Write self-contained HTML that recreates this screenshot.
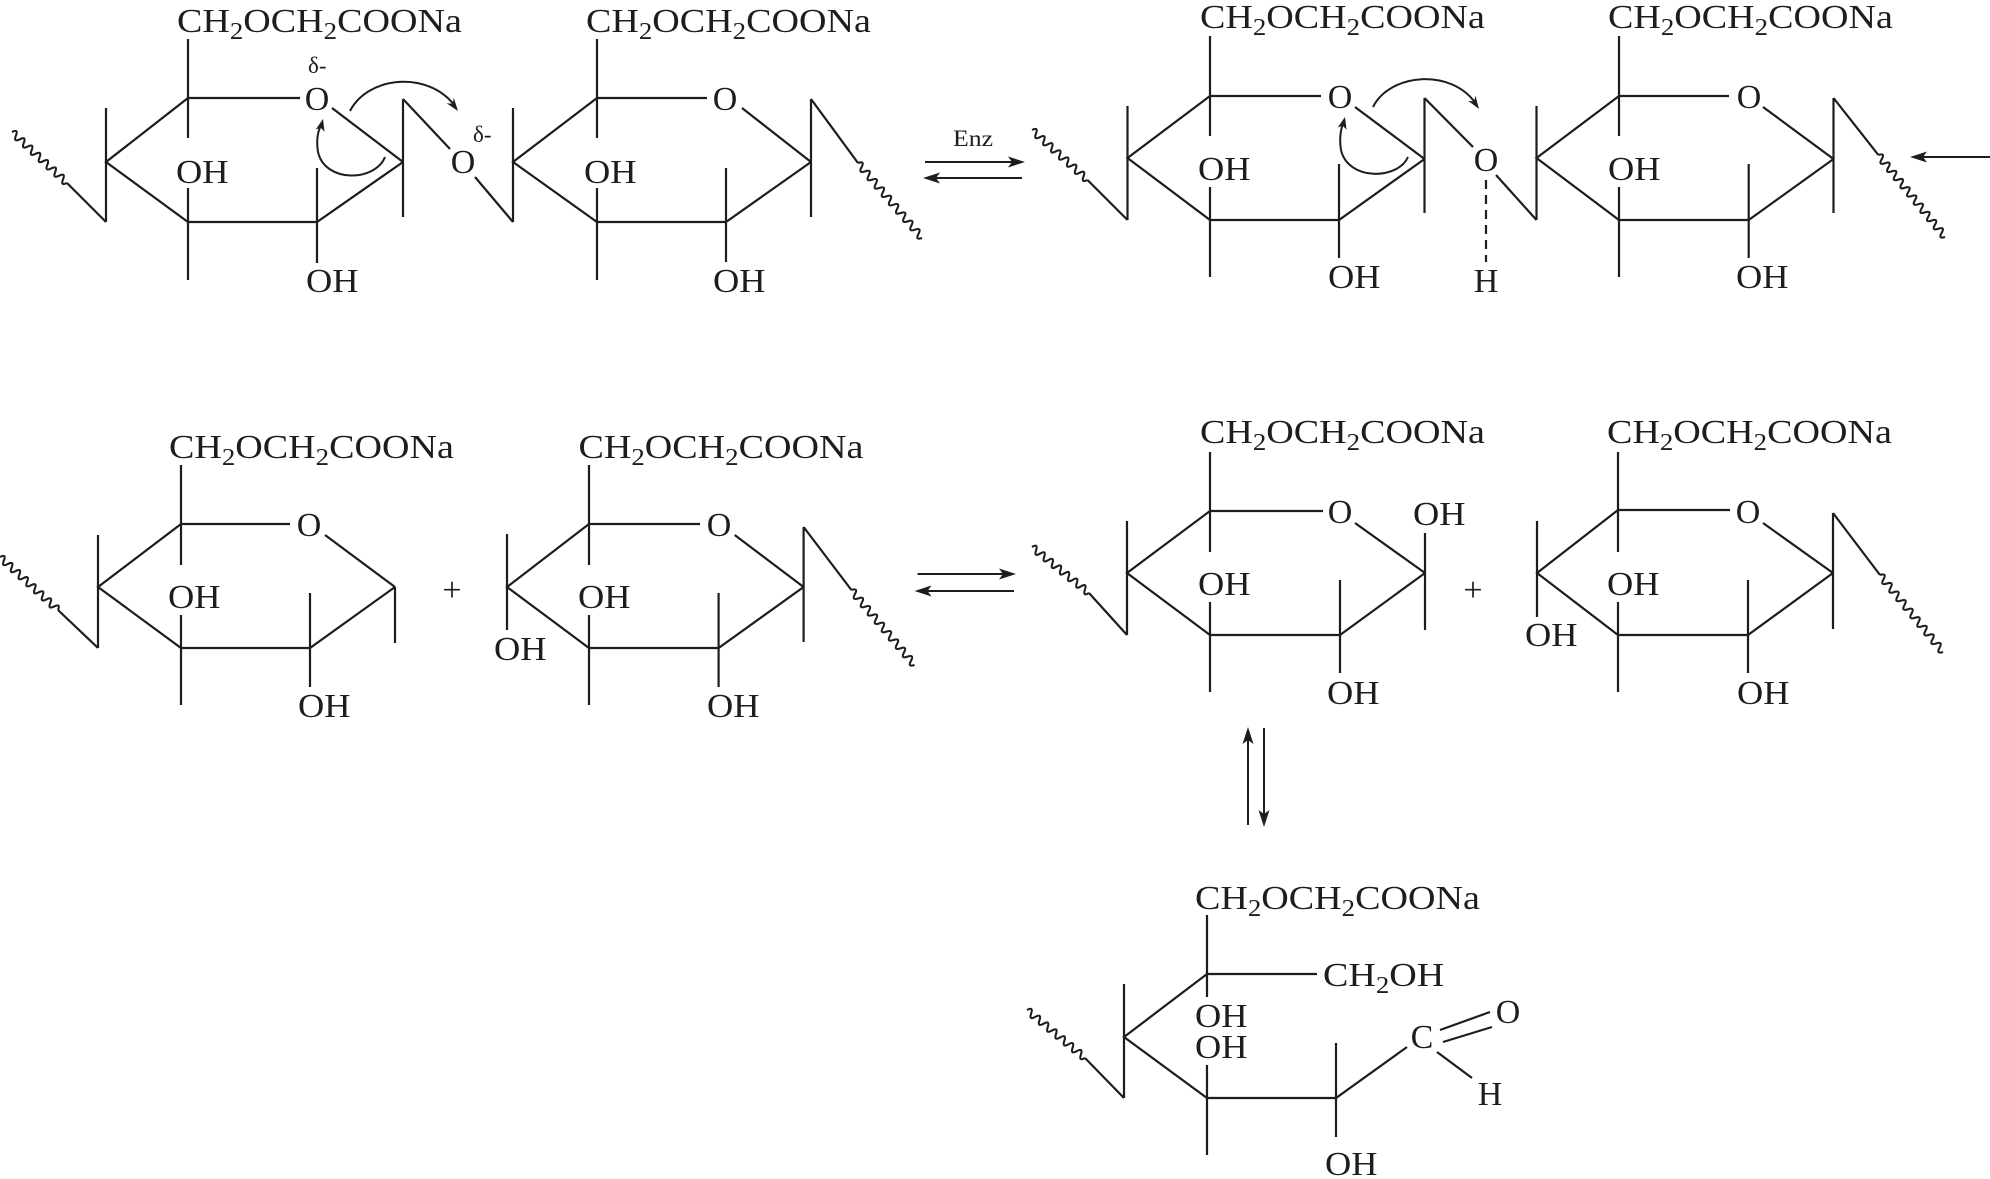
<!DOCTYPE html>
<html>
<head>
<meta charset="utf-8">
<style>
  html, body { margin: 0; padding: 0; background: #fff; }
  svg { display: block; }
  .b { fill: none; stroke: #1e1c1d; stroke-width: 2.2; stroke-linecap: butt; stroke-linejoin: miter; }
  .w { fill: none; stroke: #1e1c1d; stroke-width: 2; }
  .v { fill: none; stroke: #1e1c1d; stroke-width: 2.1; stroke-linejoin: round; }
  .h { fill: #1e1c1d; stroke: none; }
  text { font-family: "Liberation Serif", serif; fill: #1e1c1d; font-size: 34px; }
  .c { text-anchor: middle; }
  .sm { font-size: 23px; }
</style>
</head>
<body>
<svg width="1990" height="1179" viewBox="0 0 1990 1179" xmlns="http://www.w3.org/2000/svg">
<rect width="1990" height="1179" fill="#fff"/>

<!-- ============ TOP LEFT: two rings ============ -->
<path class="b" d="M188,98 L300,98 M332,108 L403,162 M188,98 L106,162 L188,222 L317,222 L403,162 M106,108 L106,222 M188,39 L188,138 M188,188 L188,280 M317,168 L317,263 M403,99 L403,217 M403,99 L450,149 M475,177 L513,222 M67,183 L106,222"/>
<path class="b" d="M597,98 L707,98 M742,108 L811,162 M597,98 L513,162 L597,222 L726,222 L811,162 M513,108 L513,222 M597,39 L597,138 M597,188 L597,280 M726,168 L726,262 M811,99 L811,217 M811,99 L858,163"/>

<!-- wavy lines -->
<path class="v" vector-effect="non-scaling-stroke" transform="translate(12,132) rotate(42.84) scale(1.071,1)" d="M0,0q2.5,-7 5,0t5,0t5,0t5,0t5,0t5,0t5,0t5,0t5,0t5,0t5,0t5,0t5,0t5,0"/>
<path class="v" vector-effect="non-scaling-stroke" transform="translate(858,163) rotate(49.52) scale(1.096,1)" d="M0,0q2.5,-7 5,0t5,0t5,0t5,0t5,0t5,0t5,0t5,0t5,0t5,0t5,0t5,0t5,0t5,0t5,0t5,0t5,0t5,0"/>

<!-- curved arrows ring 1 -->
<path class="w" d="M350,111 C368,76 428,70 455,106"/>
<path class="h" d="M458,111 L446.6,103.3 L452.6,103.8 L453.8,97.9 Z"/>
<path class="w" d="M385,157 C375,182 325,183 318,152 C316,140 318,130 321.5,125"/>
<path class="h" d="M323,119 L324.5,131.7 L320.8,127.7 L315.7,129.5 Z"/>

<!-- texts top-left -->
<text transform="translate(177,32) scale(1.12,1)">CH<tspan font-size="24" dy="7">2</tspan><tspan dy="-7">OCH</tspan><tspan font-size="24" dy="7">2</tspan><tspan dy="-7">COONa</tspan></text>
<text transform="translate(586,32) scale(1.12,1)">CH<tspan font-size="24" dy="7">2</tspan><tspan dy="-7">OCH</tspan><tspan font-size="24" dy="7">2</tspan><tspan dy="-7">COONa</tspan></text>
<text class="c" x="317" y="110">O</text>
<text class="c" x="463" y="173">O</text>
<text class="c" x="725" y="110">O</text>
<text class="sm" x="308" y="73">δ-</text>
<text class="sm" x="473" y="142">δ-</text>
<text transform="translate(176,183) scale(1.07,1)">OH</text>
<text transform="translate(306,292) scale(1.07,1)">OH</text>
<text transform="translate(584,183) scale(1.07,1)">OH</text>
<text transform="translate(713,292) scale(1.07,1)">OH</text>

<!-- Enz equilibrium -->
<text class="sm" transform="translate(953,146) scale(1.12,1)">Enz</text>
<path class="w" d="M925,162 L1012,162 M936,178 L1022,178"/>
<path class="h" d="M1025,162 L1008,156.5 L1012,162 L1008,167.5 Z"/>
<path class="h" d="M923,178 L940,172.5 L936,178 L940,183.5 Z"/>

<!-- ============ TOP RIGHT ============ -->
<path class="b" d="M1210,96 L1321,96 M1355,107 L1424.5,159 M1210,96 L1127.5,158 L1210,220 L1339,220 L1424.5,159 M1127.5,106 L1127.5,220 M1210,36 L1210,136 M1210,187 L1210,277 M1339,164 L1339,258 M1424.5,98 L1424.5,213 M1424.5,98 L1473,147 M1087.5,180 L1127.5,220 M1496,175 L1536.5,220"/>
<path class="b" d="M1619,96 L1729,96 M1763,107 L1833.5,159 M1619,96 L1536.5,158 L1619,220 L1748.7,220 L1833.5,159 M1536.5,106 L1536.5,220 M1619,36 L1619,136 M1619,187 L1619,277 M1748.7,164 L1748.7,258 M1833.5,98 L1833.5,213 M1833.5,98 L1878.4,155"/>
<path class="b" stroke-dasharray="9,6" d="M1486,180 L1486,262"/>
<path class="v" vector-effect="non-scaling-stroke" transform="translate(1032,130) rotate(42.0) scale(1.067,1)" d="M0,0q2.5,-7 5,0t5,0t5,0t5,0t5,0t5,0t5,0t5,0t5,0t5,0t5,0t5,0t5,0t5,0"/>
<path class="v" vector-effect="non-scaling-stroke" transform="translate(1878.4,155) rotate(50.92) scale(1.056,1)" d="M0,0q2.5,-7 5,0t5,0t5,0t5,0t5,0t5,0t5,0t5,0t5,0t5,0t5,0t5,0t5,0t5,0t5,0t5,0t5,0t5,0t5,0t5,0"/>

<!-- curved arrows ring 3 -->
<path class="w" d="M1373,107 C1390,73 1452,68 1476,104"/>
<path class="h" d="M1479,109 L1468.1,100.7 L1474,101.5 L1475.5,95.7 Z"/>
<path class="w" d="M1408,157 C1398,180 1348,181 1341,150 C1339,138 1341,128 1343.5,123"/>
<path class="h" d="M1345,117 L1346.5,129.7 L1342.8,125.7 L1337.7,127.5 Z"/>

<!-- right arrow -->
<path class="w" d="M1923,157 L1990,157"/>
<path class="h" d="M1910,157 L1927,151.5 L1923,157 L1927,162.5 Z"/>

<text transform="translate(1200,28) scale(1.12,1)">CH<tspan font-size="24" dy="7">2</tspan><tspan dy="-7">OCH</tspan><tspan font-size="24" dy="7">2</tspan><tspan dy="-7">COONa</tspan></text>
<text transform="translate(1608,28) scale(1.12,1)">CH<tspan font-size="24" dy="7">2</tspan><tspan dy="-7">OCH</tspan><tspan font-size="24" dy="7">2</tspan><tspan dy="-7">COONa</tspan></text>
<text class="c" x="1340" y="108">O</text>
<text class="c" x="1486" y="171">O</text>
<text class="c" x="1486" y="292">H</text>
<text class="c" x="1749" y="108">O</text>
<text transform="translate(1198,180) scale(1.07,1)">OH</text>
<text transform="translate(1328,288) scale(1.07,1)">OH</text>
<text transform="translate(1608,180) scale(1.07,1)">OH</text>
<text transform="translate(1736,288) scale(1.07,1)">OH</text>

<!-- ============ ROW 2 LEFT ============ -->
<path class="b" d="M181,524 L290,524 M325,535 L395,587 M181,524 L98,587 L181,648 L310,648 L395,587 M98,535 L98,648 M181,465 L181,565 M181,615 L181,705 M310,593 L310,687 M395,587 L395,643 M58,610 L98,648"/>
<path class="b" d="M589,524 L700,524 M734.7,535 L803.6,587 M589,524 L507,587 L589,648 L718.6,648 L803.6,587 M507,534 L507,630 M589,465 L589,565 M589,615 L589,705 M718.6,593 L718.6,687 M803.6,527 L803.6,642 M803.6,527 L851.4,590"/>
<path class="v" vector-effect="non-scaling-stroke" transform="translate(0,557) rotate(42.42) scale(1.048,1)" d="M0,0q2.5,-7 5,0t5,0t5,0t5,0t5,0t5,0t5,0t5,0t5,0t5,0t5,0t5,0t5,0t5,0t5,0"/>
<path class="v" vector-effect="non-scaling-stroke" transform="translate(851.4,590) rotate(49.93) scale(1.089,1)" d="M0,0q2.5,-7 5,0t5,0t5,0t5,0t5,0t5,0t5,0t5,0t5,0t5,0t5,0t5,0t5,0t5,0t5,0t5,0t5,0t5,0"/>

<text transform="translate(169,458) scale(1.12,1)">CH<tspan font-size="24" dy="7">2</tspan><tspan dy="-7">OCH</tspan><tspan font-size="24" dy="7">2</tspan><tspan dy="-7">COONa</tspan></text>
<text transform="translate(578.5,458) scale(1.12,1)">CH<tspan font-size="24" dy="7">2</tspan><tspan dy="-7">OCH</tspan><tspan font-size="24" dy="7">2</tspan><tspan dy="-7">COONa</tspan></text>
<text class="c" x="309" y="536">O</text>
<text class="c" x="719" y="536">O</text>
<text transform="translate(168,608) scale(1.07,1)">OH</text>
<text transform="translate(298,717) scale(1.07,1)">OH</text>
<text transform="translate(578,608) scale(1.07,1)">OH</text>
<text transform="translate(707,717) scale(1.07,1)">OH</text>
<text transform="translate(494,660) scale(1.07,1)">OH</text>
<text class="c" x="452" y="601" font-size="36">+</text>

<!-- row 2 equilibrium -->
<path class="w" d="M917.6,574 L1003,574 M927.5,591 L1014,591"/>
<path class="h" d="M1016,574 L999,568.5 L1003,574 L999,579.5 Z"/>
<path class="h" d="M914.5,591 L931.5,585.5 L927.5,591 L931.5,596.5 Z"/>

<!-- ============ ROW 2 RIGHT ============ -->
<path class="b" d="M1210,511 L1323,511 M1355,523 L1425,573 M1210,511 L1127,573 L1210,635 L1340,635 L1425,573 M1127,521 L1127,635 M1210,452 L1210,552 M1210,602 L1210,692 M1340,580 L1340,673 M1425,533 L1425,630 M1089,593 L1127,635"/>
<path class="b" d="M1618,510 L1730,510 M1763,523 L1833,573 M1618,510 L1537,573 L1618,635 L1748,635 L1833,573 M1537,521 L1537,617 M1618,452 L1618,552 M1618,602 L1618,692 M1748,580 L1748,673 M1833,513 L1833,629 M1833,513 L1880,575"/>
<path class="v" vector-effect="non-scaling-stroke" transform="translate(1032,547) rotate(38.9) scale(1.046,1)" d="M0,0q2.5,-7 5,0t5,0t5,0t5,0t5,0t5,0t5,0t5,0t5,0t5,0t5,0t5,0t5,0t5,0"/>
<path class="v" vector-effect="non-scaling-stroke" transform="translate(1880,575) rotate(50.71) scale(1.106,1)" d="M0,0q2.5,-7 5,0t5,0t5,0t5,0t5,0t5,0t5,0t5,0t5,0t5,0t5,0t5,0t5,0t5,0t5,0t5,0t5,0t5,0"/>

<text transform="translate(1200,443) scale(1.12,1)">CH<tspan font-size="24" dy="7">2</tspan><tspan dy="-7">OCH</tspan><tspan font-size="24" dy="7">2</tspan><tspan dy="-7">COONa</tspan></text>
<text transform="translate(1607,443) scale(1.12,1)">CH<tspan font-size="24" dy="7">2</tspan><tspan dy="-7">OCH</tspan><tspan font-size="24" dy="7">2</tspan><tspan dy="-7">COONa</tspan></text>
<text class="c" x="1340" y="523">O</text>
<text class="c" x="1748" y="523">O</text>
<text transform="translate(1413,525) scale(1.07,1)">OH</text>
<text transform="translate(1198,595) scale(1.07,1)">OH</text>
<text transform="translate(1327,704) scale(1.07,1)">OH</text>
<text transform="translate(1607,595) scale(1.07,1)">OH</text>
<text transform="translate(1525,646) scale(1.07,1)">OH</text>
<text transform="translate(1737,704) scale(1.07,1)">OH</text>
<text class="c" x="1473" y="601" font-size="36">+</text>

<!-- vertical equilibrium -->
<path class="w" d="M1248,825 L1248,740 M1264,728 L1264,814"/>
<path class="h" d="M1248,727 L1242.5,744 L1248,740 L1253.5,744 Z"/>
<path class="h" d="M1264,827 L1258.5,810 L1264,814 L1269.5,810 Z"/>

<!-- ============ BOTTOM open chain ============ -->
<path class="b" d="M1207,915 L1207,997 M1207,974 L1317,974 M1207,974 L1124,1037 L1207,1098 L1336,1098 L1407,1047 M1124,984 L1124,1098 M1207,1065 L1207,1155 M1336,1043 L1336,1137 M1085,1058 L1124,1098 M1440,1030 L1490,1012 M1443,1042 L1492,1027 M1437,1052 L1472,1078"/>
<path class="v" vector-effect="non-scaling-stroke" transform="translate(1027,1010) rotate(39.6) scale(1.076,1)" d="M0,0q2.5,-7 5,0t5,0t5,0t5,0t5,0t5,0t5,0t5,0t5,0t5,0t5,0t5,0t5,0t5,0"/>

<text transform="translate(1195,909) scale(1.12,1)">CH<tspan font-size="24" dy="7">2</tspan><tspan dy="-7">OCH</tspan><tspan font-size="24" dy="7">2</tspan><tspan dy="-7">COONa</tspan></text>
<text transform="translate(1323,986) scale(1.12,1)">CH<tspan font-size="24" dy="7">2</tspan><tspan dy="-7">OH</tspan></text>
<text transform="translate(1195,1027) scale(1.07,1)">OH</text>
<text transform="translate(1195,1058) scale(1.07,1)">OH</text>
<text transform="translate(1325,1175) scale(1.07,1)">OH</text>
<text class="c" x="1422" y="1048">C</text>
<text class="c" x="1508" y="1023">O</text>
<text class="c" x="1490" y="1105">H</text>
</svg>
</body>
</html>
